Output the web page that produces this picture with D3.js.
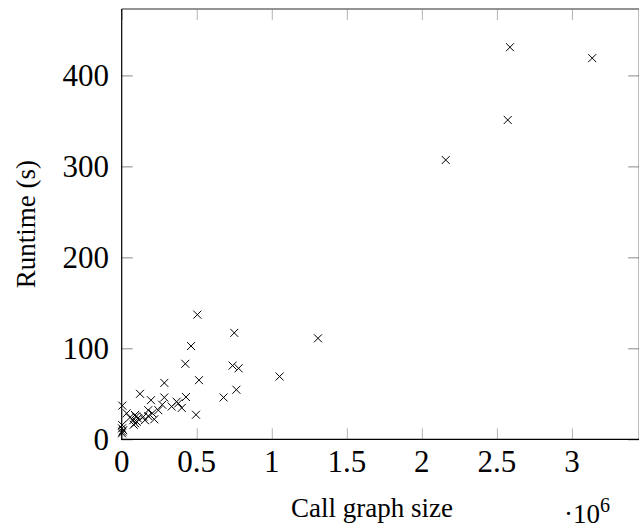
<!DOCTYPE html>
<html>
<head>
<meta charset="utf-8">
<script src="https://cdn.jsdelivr.net/npm/d3@7"></script>
<style>
  body { margin: 0; background: #fff; }
  svg { display: block; }
  svg text { font-family: "Liberation Serif", "Times New Roman", serif; }
</style>
</head>
<body>
<div id="chart"></div>
<script>
// call graph size (edges) and runtime in seconds
const callGraphSize = [
    2587000, 3135000, 2572000, 2159000, 1308000, 1052000, 504000, 750000,
    462000, 424000, 739000, 779000, 515000, 764000, 679000, 428000,
    495000, 284000, 122000, 4000, 195000, 284000, 366000, 377000,
    400000, 333000, 270000, 244000, 177000, 204000, 217000, 177000,
    144000, 89000, 77000, 100000, 55000, 33000, 107000, 89000,
    155000, 3000, 2000, 4000, 10000, 2000, 95000, 80000
];
const runtime = [
    431, 419, 351, 307, 111, 69, 137, 117,
    102.5, 83, 81, 78, 65, 54.5, 46, 46.5,
    27, 62, 50, 37, 43, 46, 41.3, 39.5,
    34.5, 36, 38, 32, 32, 28.6, 22, 25.6,
    24.8, 26.7, 21, 19.3, 24, 28.6, 23, 17.6,
    21, 15.7, 12, 8.4, 10, 6.6, 25, 16
];
const xTicks = [0, 500000, 1000000, 1500000, 2000000, 2500000, 3000000];
const yTicks = [0, 100, 200, 300, 400];

const W = 639, H = 532;
const mLeft = 121.7, mRight = 639.2, mTop = 9, mBottom = 439.3;
const serif = "Liberation Serif";

const svg = d3.select("#chart").append("svg")
    .attr("width", W)
    .attr("height", H);

const x = d3.scaleLinear().domain([0, 3448000]).range([mLeft, mRight]);
const y = d3.scaleLinear().domain([0, 473]).range([mBottom, mTop]);

const tickLen = 11;

// ticks inside the box (grey), all four sides
const tickColor = "#b3b3b3";
svg.append("g").attr("transform", "translate(0," + mBottom + ")")
    .call(d3.axisTop(x).tickValues(xTicks).tickSize(tickLen).tickFormat(""))
    .call(g => g.select(".domain").remove())
    .call(g => g.selectAll("line").attr("stroke", tickColor));
svg.append("g").attr("transform", "translate(0," + mTop + ")")
    .call(d3.axisBottom(x).tickValues(xTicks).tickSize(tickLen).tickFormat(""))
    .call(g => g.select(".domain").remove())
    .call(g => g.selectAll("line").attr("stroke", tickColor));
svg.append("g").attr("transform", "translate(" + mLeft + ",0)")
    .call(d3.axisRight(y).tickValues(yTicks).tickSize(tickLen).tickFormat(""))
    .call(g => g.select(".domain").remove())
    .call(g => g.selectAll("line").attr("stroke", "#888"));
svg.append("g").attr("transform", "translate(" + mRight + ",0)")
    .call(d3.axisLeft(y).tickValues(yTicks).tickSize(tickLen).tickFormat(""))
    .call(g => g.select(".domain").remove())
    .call(g => g.selectAll("line").attr("stroke", "#888"));

// box: top/right grey, left/bottom black
svg.append("line").attr("x1", mLeft).attr("x2", mRight).attr("y1", mTop).attr("y2", mTop)
    .attr("stroke", "#707070").attr("stroke-width", 1.3);
svg.append("line").attr("x1", mRight).attr("x2", mRight).attr("y1", mTop).attr("y2", mBottom)
    .attr("stroke", "#707070").attr("stroke-width", 1.3);
svg.append("line").attr("x1", mLeft).attr("x2", mLeft).attr("y1", mTop).attr("y2", mBottom + 0.6)
    .attr("stroke", "#000").attr("stroke-width", 1.2);
svg.append("line").attr("x1", mLeft - 0.6).attr("x2", mRight).attr("y1", mBottom).attr("y2", mBottom)
    .attr("stroke", "#000").attr("stroke-width", 1.2);

// tick labels
svg.append("g").selectAll("text")
    .data(xTicks)
    .join("text")
    .attr("font-family", serif)
    .attr("x", d => x(d))
    .attr("y", 472)
    .attr("text-anchor", "middle")
    .attr("font-size", 31)
    .text(d => d3.format("~g")(d / 1e6));

svg.append("g").selectAll("text")
    .data(yTicks)
    .join("text")
    .attr("font-family", serif)
    .attr("x", 109)
    .attr("y", d => y(d))
    .attr("dy", "0.35em")
    .attr("text-anchor", "end")
    .attr("font-size", 31)
    .text(d => d);

// axis labels
svg.append("text")
    .attr("font-family", serif)
    .attr("x", 372)
    .attr("y", 517)
    .attr("text-anchor", "middle")
    .attr("font-size", 27)
    .text("Call graph size");

const mult = svg.append("text")
    .attr("font-family", serif)
    .attr("x", 564)
    .attr("y", 523)
    .attr("font-size", 27);
mult.append("tspan").text("·10");
mult.append("tspan").attr("font-size", 20).attr("dy", -11).text("6");

svg.append("text")
    .attr("font-family", serif)
    .attr("transform", "translate(35," + ((mTop + mBottom) / 2) + ") rotate(-90)")
    .attr("text-anchor", "middle")
    .attr("font-size", 27)
    .text("Runtime (s)");

// x marks
const pts = callGraphSize.map((v, i) => ({sz: v, rt: runtime[i]}));
const r = 4;
svg.append("g").selectAll("path")
    .data(pts)
    .join("path")
    .attr("d", d => {
        const cx = x(d.sz), cy = y(d.rt);
        return "M" + (cx - r) + "," + (cy - r) + "L" + (cx + r) + "," + (cy + r) +
            "M" + (cx - r) + "," + (cy + r) + "L" + (cx + r) + "," + (cy - r);
    })
    .attr("stroke", "#000")
    .attr("stroke-width", 1)
    .attr("fill", "none");
</script>
</body>
</html>
